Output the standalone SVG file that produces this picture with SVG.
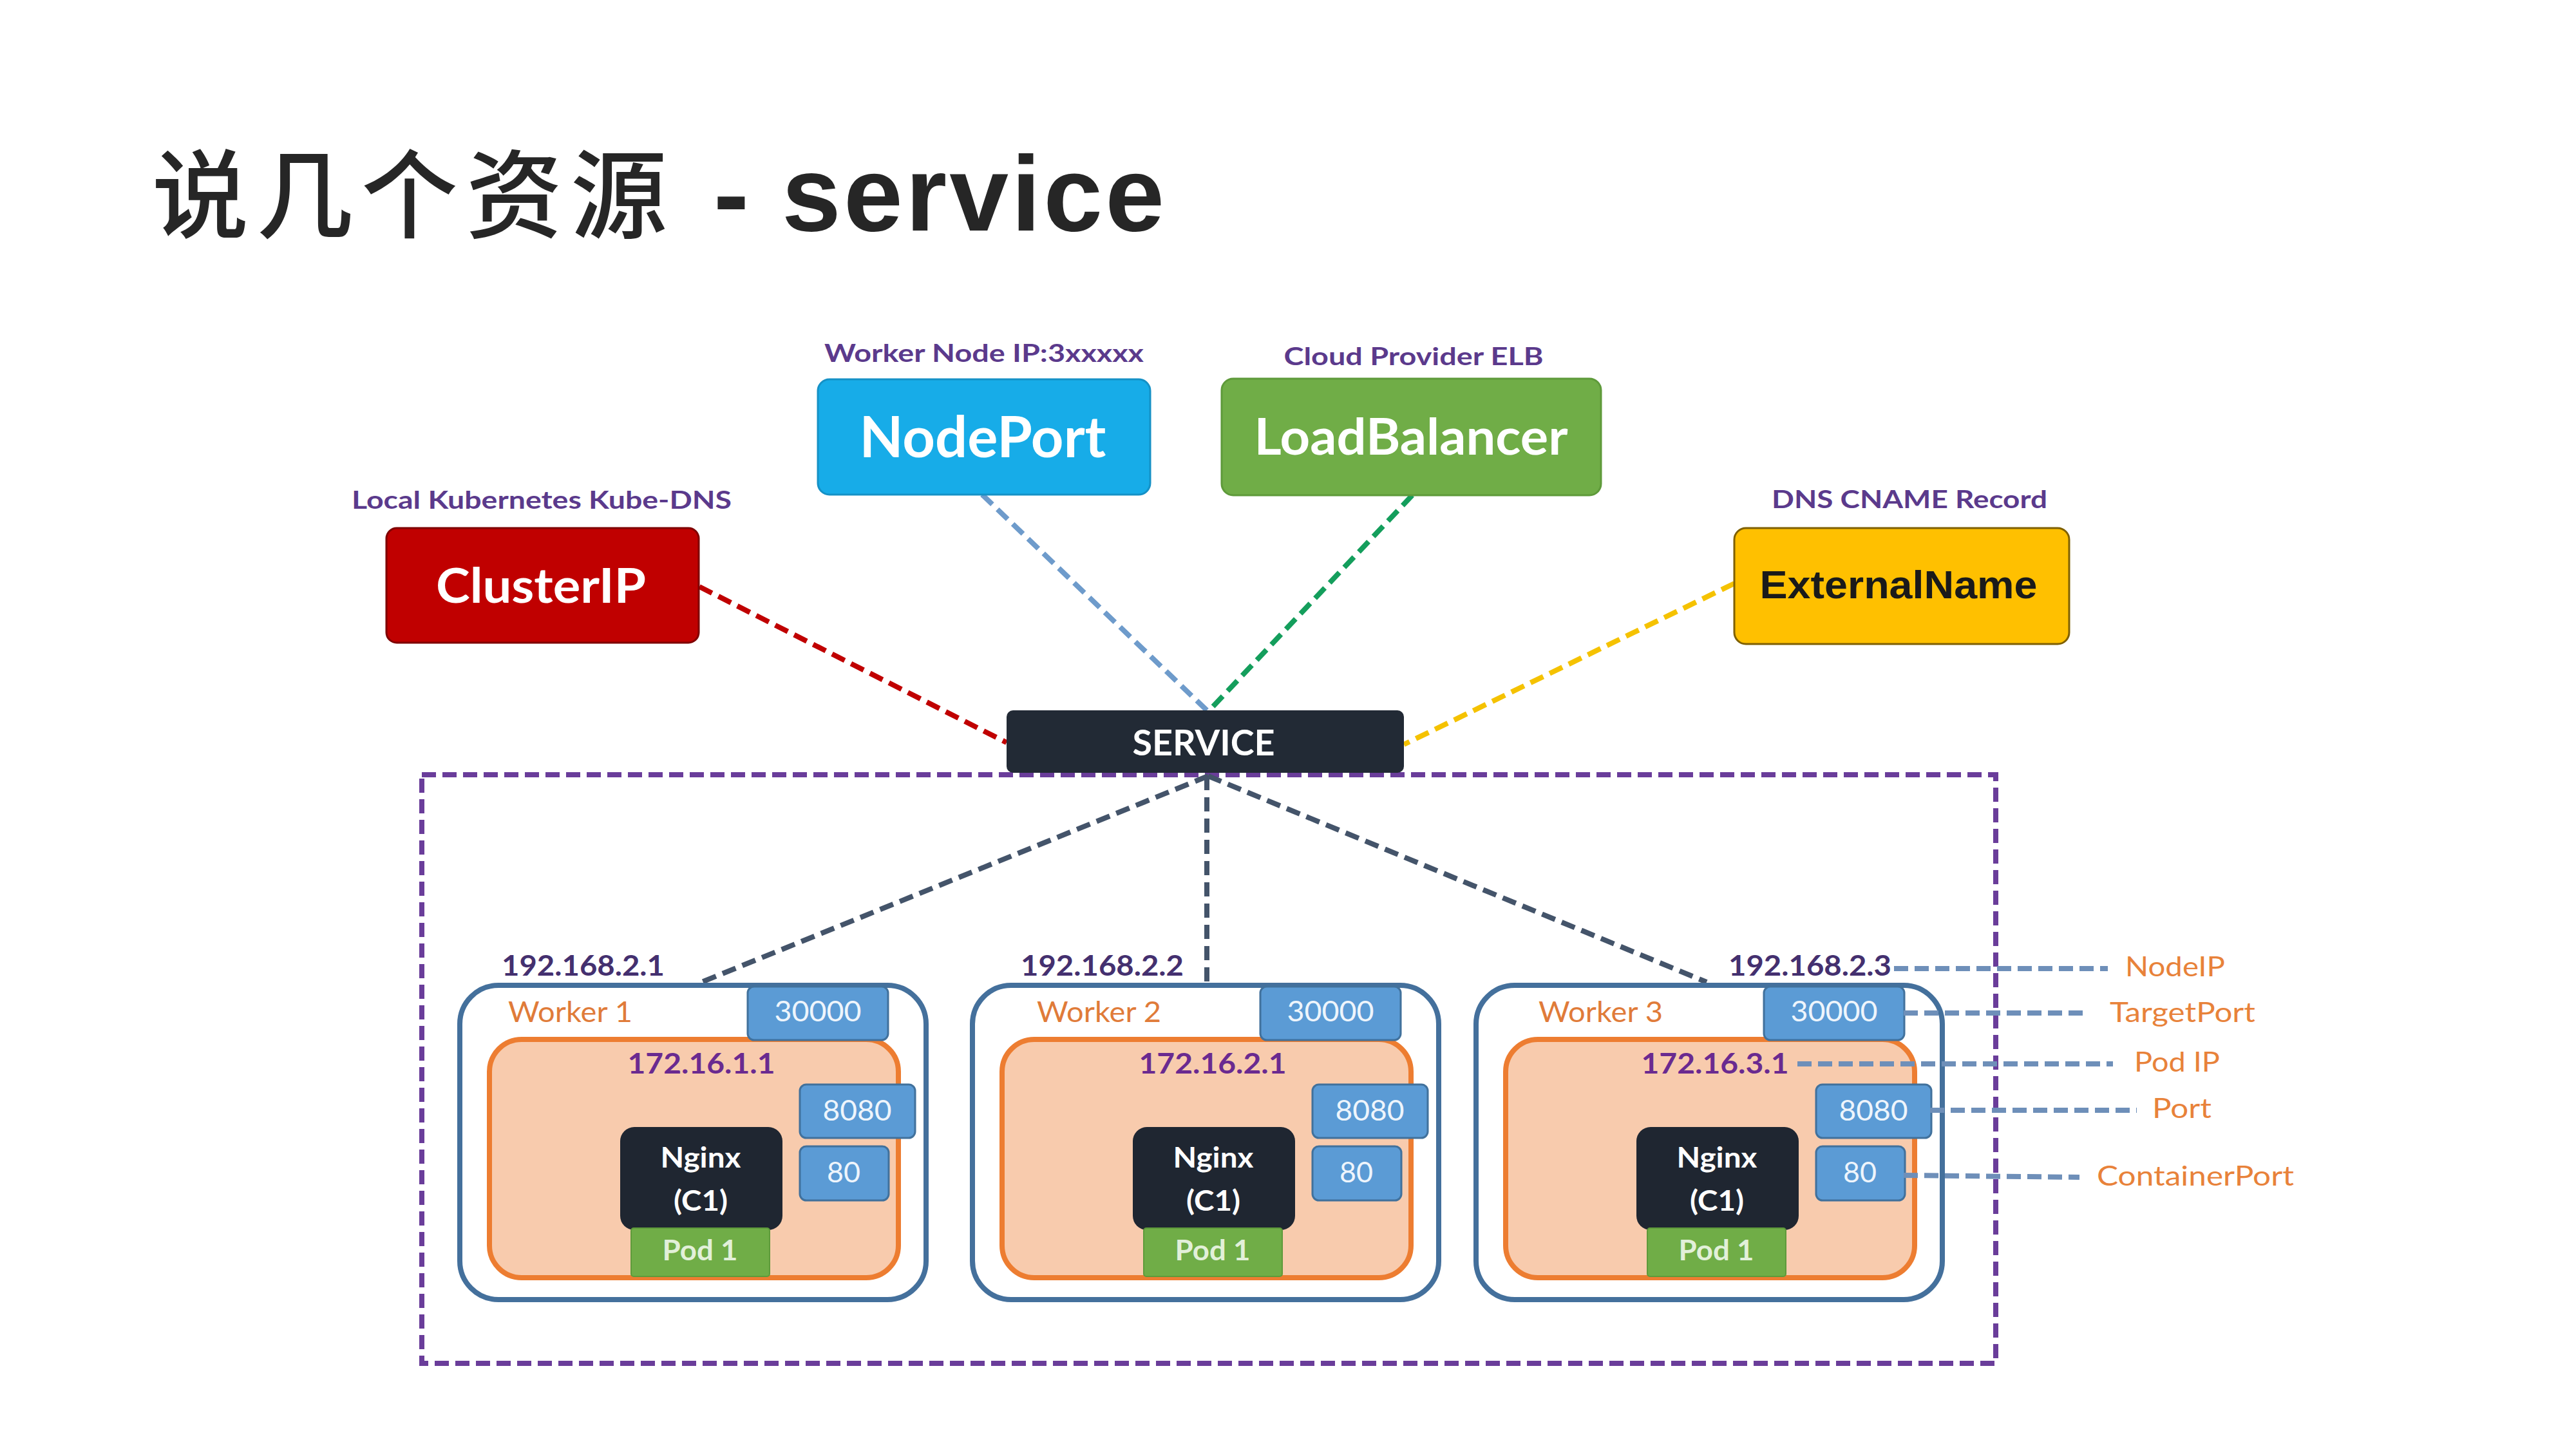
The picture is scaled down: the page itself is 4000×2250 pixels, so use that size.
<svg xmlns="http://www.w3.org/2000/svg" width="4000" height="2250" viewBox="0 0 4000 2250">
<defs>
<style>
.cal{font-family:Lato,"Noto Sans","Liberation Sans",sans-serif}
.lbl{font-size:38px;fill:#5B3A8C;font-weight:700;text-anchor:middle}
.big{fill:#ffffff;font-weight:700;text-anchor:middle}
.ipn{font-size:44px;fill:#44306F;font-weight:700}
.ipp{font-size:44px;fill:#6A2A90;font-weight:700;text-anchor:middle}
.wlab{font-size:44px;fill:#E07B39}
.port{fill:#5B9BD5;stroke:#41719C;stroke-width:3}
.ptxt{font-size:44px;fill:#EEF5FC;text-anchor:middle}
.worker{fill:#ffffff;stroke:#44709C;stroke-width:8}
.pod{fill:#F8CBAD;stroke:#ED7D31;stroke-width:8}
.ngx{fill:#1F2631}
.ntxt{font-size:44px;fill:#ffffff;font-weight:700;text-anchor:middle}
.podl{fill:#70AD47;stroke:#5E9A3A;stroke-width:2}
.podt{font-size:44px;fill:#E2F0D9;font-weight:700;text-anchor:middle}
.dash{fill:none;stroke-width:8;stroke-dasharray:22 11}
.leg{fill:none;stroke:#6E8FB9;stroke-width:8;stroke-dasharray:22 10}
.legt{font-size:42px;fill:#E8823A}
</style>
</defs>
<rect x="0" y="0" width="4000" height="2250" fill="#ffffff"/>

<g id="title" fill="#262626">
<text x="236" y="358" font-family="'Noto Sans CJK SC','Noto Sans CJK TC',sans-serif" font-size="150" font-weight="500" textLength="800">说几个资源</text>
<text x="1108" y="358" font-family="'Liberation Sans',Arial,sans-serif" font-size="165" font-weight="700" textLength="38">-</text>
<text x="1214" y="358" font-family="'Liberation Sans',Arial,sans-serif" font-size="165" font-weight="700" textLength="594">service</text>
</g>

<g id="cluster-boundary">
<rect x="655" y="1203" width="2444" height="914" fill="none" stroke="#6A3D9A" stroke-width="8" stroke-dasharray="22 10"/>
</g>

<g id="connectors">
<path class="dash" stroke="#C00000" stroke-width="9" d="M1086 911 L1563 1153"/>
<path class="dash" stroke="#6E9BCB" stroke-width="6" d="M1525 768 L1874 1103"/>
<path class="dash" stroke="#149E5C" stroke-width="7" d="M2193 769 L1878 1103"/>
<path class="dash" stroke="#F5C200" stroke-width="9" d="M2693 906 L2180 1156"/>
<path class="dash" stroke="#44546A" stroke-width="7" d="M1876 1205 L1087 1526"/>
<path class="dash" stroke="#44546A" stroke-width="7" d="M1874 1205 L1874 1525"/>
<path class="dash" stroke="#44546A" stroke-width="7" d="M1876 1205 L2650 1525"/>
</g>

<g id="clusterip" class="cal">
<text class="lbl" x="841" y="790" textLength="590" lengthAdjust="spacingAndGlyphs">Local Kubernetes Kube-DNS</text>
<rect x="600" y="820" width="485" height="178" rx="16" fill="#C00000" stroke="#7F0000" stroke-width="3"/>
<text class="big" x="840" y="936" font-size="74" textLength="326" lengthAdjust="spacingAndGlyphs">ClusterIP</text>
</g>

<g id="nodeport" class="cal">
<text class="lbl" x="1528" y="562" textLength="496" lengthAdjust="spacingAndGlyphs">Worker Node IP:3xxxxx</text>
<rect x="1270" y="589" width="516" height="179" rx="18" fill="#17ACE8" stroke="#1591C6" stroke-width="3"/>
<text class="big" x="1526" y="710" font-size="88" textLength="383" lengthAdjust="spacingAndGlyphs">NodePort</text>
</g>

<g id="loadbalancer" class="cal">
<text class="lbl" x="2195" y="567" textLength="403" lengthAdjust="spacingAndGlyphs">Cloud Provider ELB</text>
<rect x="1897" y="588" width="589" height="181" rx="18" fill="#70AD47" stroke="#5E9A3A" stroke-width="3"/>
<text class="big" x="2191" y="706" font-size="78" textLength="487" lengthAdjust="spacingAndGlyphs">LoadBalancer</text>
</g>

<g id="externalname" class="cal">
<text class="lbl" x="2965" y="789" textLength="428" lengthAdjust="spacingAndGlyphs">DNS CNAME Record</text>
<rect x="2693" y="820" width="520" height="180" rx="18" fill="#FFC000" stroke="#7F6000" stroke-width="3"/>
<text x="2948" y="929" font-family="'Liberation Sans',Arial,sans-serif" font-size="62" font-weight="700" fill="#1A1A1A" text-anchor="middle" textLength="431" lengthAdjust="spacingAndGlyphs">ExternalName</text>
</g>

<g id="service" class="cal">
<rect x="1563" y="1103" width="617" height="97" rx="10" fill="#222A35"/>
<text class="big" x="1869" y="1173" font-size="56" textLength="221" lengthAdjust="spacingAndGlyphs">SERVICE</text>
</g>

<g id="worker1" class="cal">
<text class="ipn" x="779" y="1515" textLength="253" lengthAdjust="spacingAndGlyphs">192.168.2.1</text>
<rect class="worker" x="714" y="1530" width="724" height="488" rx="60"/>
<text class="wlab" x="789" y="1587" textLength="193" lengthAdjust="spacingAndGlyphs">Worker 1</text>
<rect class="pod" x="760" y="1614" width="635" height="370" rx="50"/>
<rect class="port" x="1161" y="1532" width="218" height="83" rx="10"/>
<text class="ptxt" x="1270" y="1586" textLength="135" lengthAdjust="spacingAndGlyphs">30000</text>
<text class="ipp" x="1089" y="1667" textLength="229" lengthAdjust="spacingAndGlyphs">172.16.1.1</text>
<rect class="port" x="1242" y="1684" width="179" height="83" rx="10"/>
<text class="ptxt" x="1331" y="1740" textLength="107" lengthAdjust="spacingAndGlyphs">8080</text>
<rect class="port" x="1242" y="1780" width="138" height="84" rx="10"/>
<text class="ptxt" x="1310" y="1836" textLength="52" lengthAdjust="spacingAndGlyphs">80</text>
<rect class="ngx" x="963" y="1750" width="252" height="160" rx="22"/>
<text class="ntxt" x="1088" y="1813" textLength="125" lengthAdjust="spacingAndGlyphs">Nginx</text>
<text class="ntxt" x="1088" y="1880" textLength="84" lengthAdjust="spacingAndGlyphs">(C1)</text>
<rect class="podl" x="980" y="1907" width="215" height="75" rx="4"/>
<text class="podt" x="1087" y="1957" textLength="117" lengthAdjust="spacingAndGlyphs">Pod 1</text>
</g>

<g id="worker2" class="cal" transform="translate(796,0)">
<text class="ipn" x="789" y="1515" textLength="253" lengthAdjust="spacingAndGlyphs">192.168.2.2</text>
<rect class="worker" x="714" y="1530" width="724" height="488" rx="60"/>
<text class="wlab" x="814" y="1587" textLength="193" lengthAdjust="spacingAndGlyphs">Worker 2</text>
<rect class="pod" x="760" y="1614" width="635" height="370" rx="50"/>
<rect class="port" x="1161" y="1532" width="218" height="83" rx="10"/>
<text class="ptxt" x="1270" y="1586" textLength="135" lengthAdjust="spacingAndGlyphs">30000</text>
<text class="ipp" x="1087" y="1667" textLength="229" lengthAdjust="spacingAndGlyphs">172.16.2.1</text>
<rect class="port" x="1242" y="1684" width="179" height="83" rx="10"/>
<text class="ptxt" x="1331" y="1740" textLength="107" lengthAdjust="spacingAndGlyphs">8080</text>
<rect class="port" x="1242" y="1780" width="138" height="84" rx="10"/>
<text class="ptxt" x="1310" y="1836" textLength="52" lengthAdjust="spacingAndGlyphs">80</text>
<rect class="ngx" x="963" y="1750" width="252" height="160" rx="22"/>
<text class="ntxt" x="1088" y="1813" textLength="125" lengthAdjust="spacingAndGlyphs">Nginx</text>
<text class="ntxt" x="1088" y="1880" textLength="84" lengthAdjust="spacingAndGlyphs">(C1)</text>
<rect class="podl" x="980" y="1907" width="215" height="75" rx="4"/>
<text class="podt" x="1087" y="1957" textLength="117" lengthAdjust="spacingAndGlyphs">Pod 1</text>
</g>

<g id="worker3" class="cal" transform="translate(1578,0)">
<text class="ipn" x="1106" y="1515" textLength="253" lengthAdjust="spacingAndGlyphs">192.168.2.3</text>
<rect class="worker" x="714" y="1530" width="724" height="488" rx="60"/>
<text class="wlab" x="811" y="1587" textLength="193" lengthAdjust="spacingAndGlyphs">Worker 3</text>
<rect class="pod" x="760" y="1614" width="635" height="370" rx="50"/>
<rect class="port" x="1161" y="1532" width="218" height="83" rx="10"/>
<text class="ptxt" x="1270" y="1586" textLength="135" lengthAdjust="spacingAndGlyphs">30000</text>
<text class="ipp" x="1085" y="1667" textLength="229" lengthAdjust="spacingAndGlyphs">172.16.3.1</text>
<rect class="port" x="1242" y="1684" width="179" height="83" rx="10"/>
<text class="ptxt" x="1331" y="1740" textLength="107" lengthAdjust="spacingAndGlyphs">8080</text>
<rect class="port" x="1242" y="1780" width="138" height="84" rx="10"/>
<text class="ptxt" x="1310" y="1836" textLength="52" lengthAdjust="spacingAndGlyphs">80</text>
<rect class="ngx" x="963" y="1750" width="252" height="160" rx="22"/>
<text class="ntxt" x="1088" y="1813" textLength="125" lengthAdjust="spacingAndGlyphs">Nginx</text>
<text class="ntxt" x="1088" y="1880" textLength="84" lengthAdjust="spacingAndGlyphs">(C1)</text>
<rect class="podl" x="980" y="1907" width="215" height="75" rx="4"/>
<text class="podt" x="1087" y="1957" textLength="117" lengthAdjust="spacingAndGlyphs">Pod 1</text>
</g>

<g id="legend-connectors">
<path class="leg" d="M2941 1504 H3273"/>
<path class="leg" d="M2956 1573 H3242"/>
<path class="leg" d="M2791 1652 H3281"/>
<path class="leg" d="M2997 1724 H3318"/>
<path class="leg" d="M2956 1825 L3229 1828"/>
</g>

<g id="legend-labels" class="cal">
<text class="legt" x="3300" y="1516" textLength="155" lengthAdjust="spacingAndGlyphs">NodeIP</text>
<text class="legt" x="3276" y="1587" textLength="226" lengthAdjust="spacingAndGlyphs">TargetPort</text>
<text class="legt" x="3314" y="1664" textLength="133" lengthAdjust="spacingAndGlyphs">Pod IP</text>
<text class="legt" x="3342" y="1736" textLength="92" lengthAdjust="spacingAndGlyphs">Port</text>
<text class="legt" x="3256" y="1841" textLength="306" lengthAdjust="spacingAndGlyphs">ContainerPort</text>
</g>
</svg>
